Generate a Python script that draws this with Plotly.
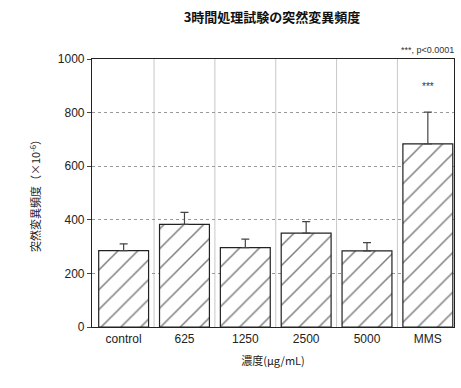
import plotly.graph_objects as go

# Mutation frequency after 3-hour treatment
categories = ["control", "625", "1250", "2500", "5000", "MMS"]
means = [285, 383, 296, 350, 284, 683]
sd = [25, 45, 32, 43, 31, 119]
y_ticks = [0, 200, 400, 600, 800, 1000]

font_main = "Liberation Sans, Arial, Noto Sans CJK JP, sans-serif"
font_jp = "Noto Sans CJK JP, sans-serif"

fig = go.Figure()
fig.add_trace(go.Bar(
    x=list(range(len(categories))),
    y=means,
    width=0.82,
    marker=dict(
        color="white",
        line=dict(color="#222", width=1.2),
        pattern=dict(shape="/", fgcolor="#000", bgcolor="white", size=14, solidity=0.11),
    ),
    error_y=dict(type="data", array=sd, arrayminus=[0] * len(sd), symmetric=False,
                 color="#444", thickness=1.2, width=4),
    showlegend=False,
))

fig.update_layout(
    width=461, height=388,
    margin=dict(l=92, r=7, t=59, b=61),
    paper_bgcolor="white", plot_bgcolor="white",
    font=dict(family=font_main, size=12, color="#222"),
    title=dict(text="<b>3時間処理試験の突然変異頻度</b>", x=0.59, xanchor="center",
               y=0.955, yanchor="middle", font=dict(family=font_jp, size=13, color="#111")),
)

fig.update_xaxes(
    range=[-0.52, 5.43],
    tickmode="array", tickvals=list(range(len(categories))), ticktext=categories,
    showgrid=False, showline=True, linecolor="#222", linewidth=1.2, mirror=True,
    ticks="", zeroline=False,
    title=dict(text="濃度(μg/mL)", font=dict(family=font_jp, size=11, color="#222"), standoff=12),
    tickfont=dict(size=12, color="#222"),
)
fig.update_yaxes(
    range=[0, 1000],
    tickmode="array", tickvals=y_ticks,
    showgrid=True, gridcolor="#999", griddash="dot", gridwidth=1,
    showline=True, linecolor="#222", linewidth=1.2, mirror=True,
    ticks="outside", ticklen=4, tickcolor="#444",
    zeroline=False,
    title=dict(text="突然変異頻度（×10<sup>-6</sup>）", font=dict(family=font_jp, size=11, color="#222"),
               standoff=14),
    tickfont=dict(size=12, color="#222"),
)

# Vertical separators between categories
for i in range(len(categories) - 1):
    fig.add_shape(type="line", xref="x", yref="paper", x0=i + 0.5, x1=i + 0.5, y0=0, y1=1,
                  line=dict(color="#c8c8c8", width=1), layer="below")

fig.add_annotation(text="***", x=5, y=means[5] + sd[5], yshift=26, xref="x", yref="y",
                   showarrow=False, font=dict(size=10, color="#333"))
fig.add_annotation(text="***, p<0.0001", x=1.005, y=1.0, xref="paper", yref="paper",
                   xanchor="right", yanchor="bottom", yshift=2, showarrow=False,
                   font=dict(size=9, color="#333"))

fig.write_html("out.html")
